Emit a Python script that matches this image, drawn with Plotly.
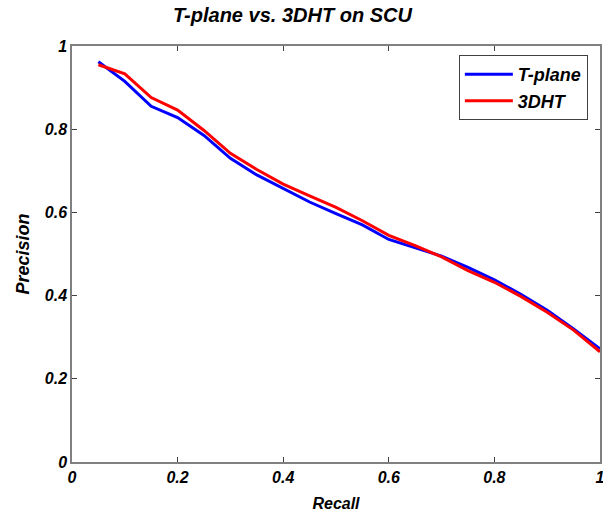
import plotly.graph_objects as go

recall = [0.05, 0.1, 0.15, 0.2, 0.25, 0.3, 0.35, 0.4, 0.45, 0.5,
          0.55, 0.6, 0.65, 0.7, 0.75, 0.8, 0.85, 0.9, 0.95, 1.0]
tplane = [0.962, 0.915, 0.855, 0.828, 0.785, 0.730, 0.690, 0.657, 0.625, 0.597,
          0.570, 0.535, 0.515, 0.495, 0.468, 0.438, 0.403, 0.365, 0.320, 0.272]
dht = [0.955, 0.933, 0.876, 0.846, 0.797, 0.742, 0.703, 0.668, 0.640, 0.612,
       0.580, 0.545, 0.520, 0.493, 0.460, 0.432, 0.398, 0.360, 0.317, 0.265]
ticks = [0, 0.2, 0.4, 0.6, 0.8, 1]
tick_text = ["0", "0.2", "0.4", "0.6", "0.8", "1"]

FAM = "Liberation Sans, Arial, sans-serif"
font = dict(family=FAM, size=16, color="black", weight="bold", style="italic")
ytitle_font = dict(family=FAM, size=18, color="black", weight="bold", style="italic")
title_font = dict(family=FAM, size=20, color="black", weight="bold", style="italic")
legend_font = dict(family=FAM, size=18, color="black", weight="bold", style="italic")

fig = go.Figure()
fig.add_trace(go.Scatter(x=recall, y=tplane, mode="lines", name="T-plane",
                         line=dict(color="#0000ff", width=3)))
fig.add_trace(go.Scatter(x=recall, y=dht, mode="lines", name="3DHT",
                         line=dict(color="#ff0000", width=3)))

axis_common = dict(showgrid=False, zeroline=False, showline=True, linecolor="#808080",
                   linewidth=1.5, mirror="ticks", ticks="inside", ticklen=5,
                   tickcolor="#404040", tickfont=font, automargin=False,
                   ticklabeloverflow="allow")
fig.update_xaxes(range=[0, 1], tickvals=ticks, ticktext=tick_text,
                 title=dict(text="Recall", font=font, standoff=13), **axis_common)
fig.update_yaxes(range=[0, 1], tickvals=ticks, ticktext=tick_text,
                 title=dict(text="Precision", font=ytitle_font, standoff=10), **axis_common)

fig.update_layout(
    width=603, height=514,
    margin=dict(l=72, r=3, t=46, b=52),
    paper_bgcolor="white", plot_bgcolor="white",
    title=dict(text="T-plane vs. 3DHT on SCU", font=title_font, x=0.485, xanchor="center",
               y=0.971, yanchor="middle"),
    legend=dict(x=0.977, y=0.978, xanchor="right", yanchor="top",
                bordercolor="#404040", borderwidth=1, bgcolor="white",
                font=legend_font, itemwidth=48, tracegroupgap=0),
    showlegend=True,
)

fig.write_html("out.html", post_script="document.body.style.margin='0px';",
               config={"displayModeBar": False})
